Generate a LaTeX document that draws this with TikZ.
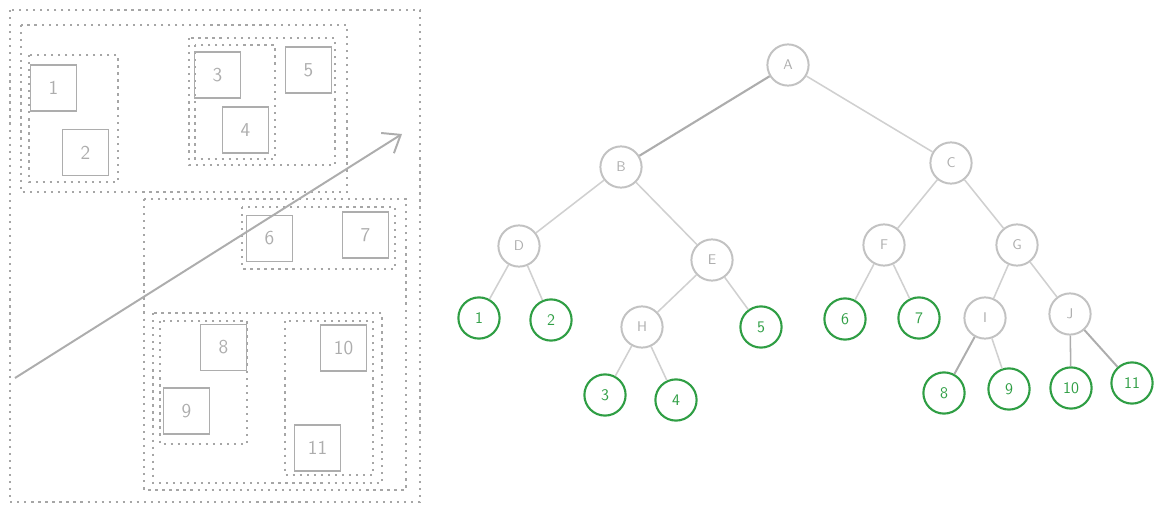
\documentclass[tikz,border=0pt]{standalone}
\usepackage{tikz}
\usetikzlibrary{arrows.meta}

\definecolor{sketchgray}{HTML}{ADADAD}
\definecolor{dotgray}{HTML}{A6A6A6}
\definecolor{edgegray}{HTML}{D0D0D0}
\definecolor{ringgray}{HTML}{C2C2C2}
\definecolor{leafgreen}{HTML}{2F9E44}

\begin{document}
\begin{tikzpicture}[x=0.025cm,y=-0.025cm,
  font=\sffamily,
  region/.style={draw=dotgray,line width=1.6pt,dash pattern=on 1.6pt off 3.4pt},
  item/.style={draw=sketchgray,line width=1.4pt,minimum size=1.15cm,inner sep=0pt,
    text=sketchgray,font=\sffamily\fontsize{14}{16}\selectfont},
  inner/.style={circle,draw=ringgray,line width=1.4pt,minimum size=1.03cm,inner sep=0pt,
    text=sketchgray,font=\sffamily\fontsize{10}{12}\selectfont},
  leaf/.style={circle,draw=leafgreen,line width=1.5pt,minimum size=1.03cm,inner sep=0pt,
    text=leafgreen,font=\sffamily\fontsize{11.5}{13}\selectfont},
  link/.style={draw=edgegray,line width=1.1pt}]
\useasboundingbox (0,0) rectangle (1164,512);

% dotted regions
\draw [region] (10,10) rectangle (420,502) ;
\draw [region] (21,25) rectangle (347,192) ;
\draw [region] (29,55) rectangle (118,182) ;
\draw [region] (189,38) rectangle (335,165) ;
\draw [region] (195,45) rectangle (275,159) ;
\draw [region] (144,199) rectangle (406,490) ;
\draw [region] (242,207) rectangle (395,269) ;
\draw [region] (153,313) rectangle (382,483) ;
\draw [region] (160,321) rectangle (247,444) ;
\draw [region] (285,321) rectangle (373,475) ;

% items
\node [item] (s1) at (53.5,88) {1} ;
\node [item] (s2) at (85.5,152.5) {2} ;
\node [item] (s3) at (217.5,75) {3} ;
\node [item] (s4) at (245.5,130) {4} ;
\node [item] (s5) at (308.5,70) {5} ;
\node [item] (s6) at (269.5,238.5) {6} ;
\node [item] (s7) at (365.5,235) {7} ;
\node [item] (s8) at (223.5,347.5) {8} ;
\node [item] (s9) at (186.5,411) {9} ;
\node [item] (s10) at (343.5,348) {10} ;
\node [item] (s11) at (317.5,448) {11} ;

% arrow
\coordinate (tail) at (15,378) ;
\coordinate (head) at (402,134) ;
\draw [draw=sketchgray,line width=1.4pt,-{Straight Barb[length=11pt,width=17pt]}] (tail) -- (head) ;

% tree
\node [inner] (A) at (788,65) {A} ;
\node [inner] (B) at (621,167) {B} ;
\node [inner] (C) at (951,163) {C} ;
\node [inner] (D) at (519,246) {D} ;
\node [inner] (E) at (712,260) {E} ;
\node [inner] (F) at (884,245) {F} ;
\node [inner] (G) at (1017,245) {G} ;
\node [inner] (H) at (642,327) {H} ;
\node [inner] (I) at (985,318) {I} ;
\node [inner] (J) at (1070,314) {J} ;
\node [leaf] (l1) at (479,318) {1} ;
\node [leaf] (l2) at (551,320) {2} ;
\node [leaf] (l3) at (605,395) {3} ;
\node [leaf] (l4) at (676,400) {4} ;
\node [leaf] (l5) at (761,327) {5} ;
\node [leaf] (l6) at (845,319) {6} ;
\node [leaf] (l7) at (919,318) {7} ;
\node [leaf] (l8) at (944,393) {8} ;
\node [leaf] (l9) at (1009,389) {9} ;
\node [leaf] (l10) at (1071,388) {10} ;
\node [leaf] (l11) at (1132,383) {11} ;

\draw [link,draw=sketchgray,line width=1.5pt] (A) -- (B) ;
\draw [link] (A) -- (C) ;
\draw [link] (B) -- (D) ;
\draw [link] (B) -- (E) ;
\draw [link] (C) -- (F) ;
\draw [link] (C) -- (G) ;
\draw [link] (D) -- (l1) ;
\draw [link] (D) -- (l2) ;
\draw [link] (E) -- (H) ;
\draw [link] (E) -- (l5) ;
\draw [link] (H) -- (l3) ;
\draw [link] (H) -- (l4) ;
\draw [link] (F) -- (l6) ;
\draw [link] (F) -- (l7) ;
\draw [link] (G) -- (I) ;
\draw [link] (G) -- (J) ;
\draw [link,draw=sketchgray,line width=1.4pt] (I) -- (l8) ;
\draw [link] (I) -- (l9) ;
\draw [link,draw=sketchgray] (J) -- (l10) ;
\draw [link,draw=sketchgray,line width=1.4pt] (J) -- (l11) ;
\end{tikzpicture}
\end{document}
